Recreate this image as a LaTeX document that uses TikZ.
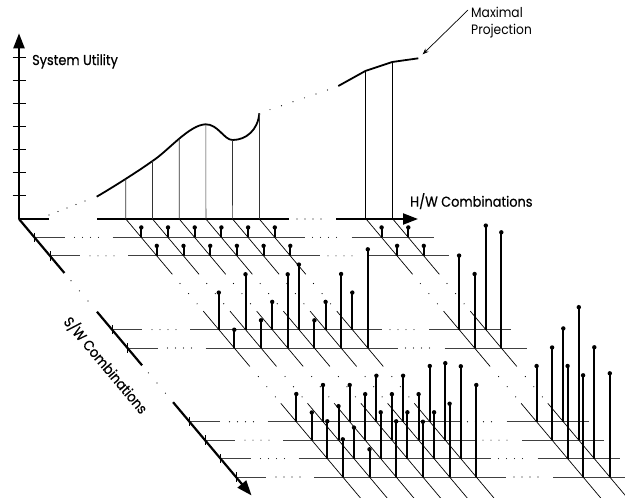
\documentclass[tikz,border=0pt]{standalone}
\usepackage{fontspec}
\newfontfamily\lblfont[FakeStretch=0.9,FakeBold=0.6]{Poppins}
\newfontfamily\notefont[FakeStretch=0.9]{Poppins}
\usetikzlibrary{arrows.meta,intersections,calc}
\begin{document}
\begin{tikzpicture}[x=1pt,y=-1pt,
  axisline/.style={line width=2.2pt},
  rowline/.style={line width=0.9pt,black!75},
  diagline/.style={line width=0.7pt},
  stem/.style={line width=2pt},
  projline/.style={line width=0.7pt,black!80},
  curveline/.style={line width=1.8pt},
  bigtip/.style={-{Triangle[length=15pt,width=11pt]}},
  lbl/.style={font=\lblfont\fontsize{14.3}{16}\selectfont,inner sep=0pt},
  smalllbl/.style={font=\notefont\fontsize{13.6}{15}\selectfont,inner sep=0pt},
]
\useasboundingbox (0,0) rectangle (625,498);

% ---- floor rows (H/W lines at fixed S/W index) ----
\foreach \k in {1,2,6,7,11,12,13,14} {
  \pgfmathsetmacro\B{19+15.5*\k}
  \pgfmathsetmacro\Y{219+18.43*\k}
  \draw[rowline] (\B,\Y) -- (\B+30,\Y);
  \draw[rowline] (\B+78,\Y) -- (\B+270,\Y);
  \draw[rowline] (\B+317,\Y) -- (\B+399,\Y);
  \foreach \d in {40,48,56,64,278,286,294,302}
    \fill (\B+\d,\Y) circle (0.55);
  \draw[line width=0.9pt] (\B,\Y-4.7) -- (\B,\Y+4.7);
}

% ---- diagonals along the S/W direction ----
\foreach \j in {4,5,6,7,8,9,13,14} {
  \foreach \a/\b in {0/3,5/8,10/15.2}
    \draw[diagline] ({19+26.7*\j+15.5*\a},{219+18.43*\a}) -- ({19+26.7*\j+15.5*\b},{219+18.43*\b});
  \foreach \r in {3.5,4.05,4.6,8.55,9.1,9.65}
    \fill ({19+26.7*\j+15.5*\r},{219+18.43*\r}) circle (0.6);
}

% ---- axes ----
\coordinate (O) at (19,219);
\coordinate (Utop) at (19,33.3);
\draw[axisline,bigtip] (O) -- (Utop);
\foreach \i in {1,...,7}
  \draw[line width=1pt] (12.7,{219-23.05*\i}) -- (26,{219-23.05*\i});

\coordinate (H1) at (49,219);
\coordinate (H2) at (97,219);
\coordinate (H3) at (289,219);
\coordinate (H4) at (336,219);
\coordinate (Hend) at (418,219);
\draw[axisline] (O) -- (H1);
\draw[axisline] (H2) -- (H3);
\draw[axisline,bigtip] (H4) -- (Hend);
\foreach \d in {297,305,313,321}
  \fill (\d,219) circle (0.55);

\foreach \a/\b in {0/2.93,5.03/7.94}
  \draw[axisline] ({19+15.5*\a},{219+18.43*\a}) -- ({19+15.5*\b},{219+18.43*\b});
\coordinate (S3) at ({19+15.5*9.94},{219+18.43*9.94});
\coordinate (Send) at ({19+15.5*15},{219+18.43*15});
\draw[axisline,bigtip] (S3) -- (Send);
\foreach \r in {3.35,3.9,4.45,8.35,8.9,9.45}
  \fill ({19+15.5*\r},{219+18.43*\r}) circle (0.6);

% ---- utility curve over the first row ----
\coordinate (Cs) at (96.7,196.7);
\coordinate (Ce) at (259.3,113.3);
\draw[curveline,name path=ucurve] (Cs)
  .. controls (115,186) and (140,170) .. (152.5,161)
  .. controls (168,151) and (189,125) .. (205.5,124.3)
  .. controls (218,124) and (224,140) .. (232.6,140)
  .. controls (246,140) and (258,130) .. (Ce);
\foreach \j in {4,5,6,7,8} {
  \pgfmathsetmacro\X{19+26.7*\j}
  \path[name path=vv] (\X,219) -- (\X,60);
  \path[name intersections={of=ucurve and vv,by=ci}];
  \draw[projline] (\X,219) -- (ci);
}
\draw[projline] (Ce) -- (259.3,219);

% dotted continuations of the curve
\foreach \t in {0,0.2,0.4,0.6,0.8}
  \fill ($(49,215)!\t!(94,197.6)$) circle (0.6);
\foreach \x in {270,281.5,293,304.5,316,327.5}
  \fill (\x,{113.3-(\x-259.3)*0.3417}) circle (0.6);

% ---- maximal projection ----
\coordinate (M13) at (365.3,71);
\coordinate (M14) at (392.3,62);
\coordinate (Ms) at (338.3,86);
\coordinate (Me) at (418.3,58.3);
\draw[curveline] (Ms) -- (M13) -- (M14) -- (Me);
\draw[line width=0.8pt] (M13) -- (365.3,219);
\draw[line width=0.8pt] (M14) -- (392.3,219);

% ---- stems ----
\foreach \j/\k/\h in {
  4/1/10,5/1/10,6/1/10,7/1/10,8/1/10,9/1/10,13/1/10,14/1/10,
  4/2/10,5/2/10,6/2/10,7/2/10,8/2/10,9/2/10,13/2/10,14/2/10,
  4/6/37,5/6/55.3,6/6/27.7,7/6/65,8/6/27.7,9/6/37,13/6/74,14/6/104,
  4/7/18.3,5/7/27.7,6/7/73.7,7/7/27.7,8/7/74,9/7/98.7,13/7/74,14/7/115.7,
  4/11/27.7,5/11/36.7,6/11/36.7,7/11/46,8/11/46,9/11/55.7,13/11/55.7,14/11/93.3,
  4/12/27.7,5/12/34,6/12/46,7/12/46,8/12/46,9/12/77,13/12/92.7,14/12/133,
  4/13/37.3,5/13/31,6/13/46.3,7/13/46.3,8/13/46.3,9/13/92.3,13/13/92.6,14/13/111.3,
  4/14/37.7,5/14/27.7,6/14/55.7,7/14/55.3,8/14/73.3,9/14/92,13/14/101.7,14/14/103.7} {
  \pgfmathsetmacro\X{19+26.7*\j+15.5*\k}
  \pgfmathsetmacro\Y{219+18.43*\k}
  \draw[stem] (\X,\Y) -- (\X,\Y-\h);
  \fill (\X,\Y-\h) circle (2.2);
}

% ---- labels ----
\node[lbl,anchor=base west] (lblU) at (32,65) {System Utility};
\node[lbl,anchor=base west] (lblH) at (410,206.7) {H/W Combinations};
\node[lbl,rotate=-50] (lblS) at (106,365) {S/W Combinations};
\node[smalllbl,anchor=base west] (lblM1) at (471,17.7) {Maximal};
\node[smalllbl,anchor=base west] (lblM2) at (471,34) {Projection};
\coordinate (Mstart) at (468,10);
\coordinate (Mtip) at (422.7,54.3);
\draw[line width=0.7pt,-{Stealth[length=6pt,width=4.5pt]}] (Mstart) -- (Mtip);
\end{tikzpicture}
\end{document}
